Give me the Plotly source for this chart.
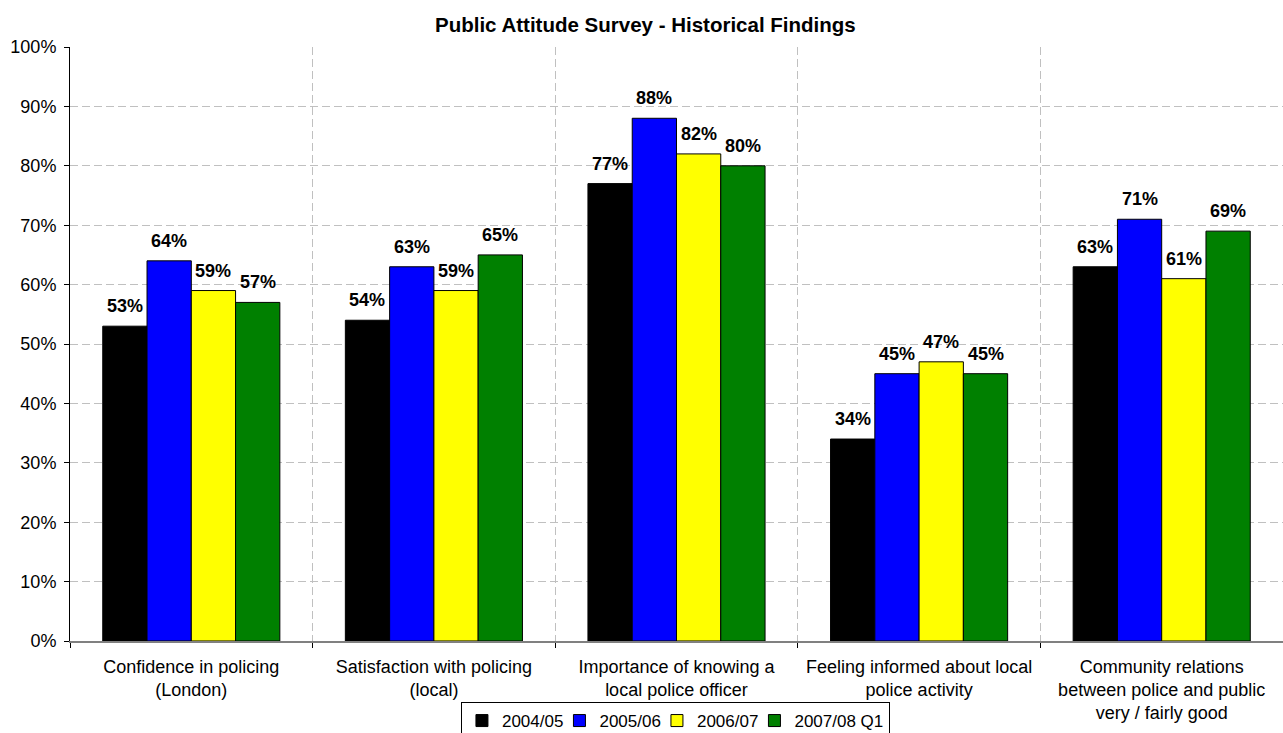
import plotly.graph_objects as go

categories = [
    "Confidence in policing<br>(London)",
    "Satisfaction with policing<br>(local)",
    "Importance of knowing a<br>local police officer",
    "Feeling informed about local<br>police activity",
    "Community relations<br>between police and public<br>very / fairly good",
]
series_names = ["2004/05", "2005/06", "2006/07", "2007/08 Q1"]
v2004 = [0.53, 0.54, 0.77, 0.34, 0.63]
v2005 = [0.64, 0.63, 0.88, 0.45, 0.71]
v2006 = [0.59, 0.59, 0.82, 0.47, 0.61]
v2007 = [0.57, 0.65, 0.80, 0.45, 0.69]
colors = ["#000000", "#0000FF", "#FFFF00", "#008000"]

FONT = "Liberation Sans, Arial, sans-serif"
W, H = 1283, 733
ML, MR, MT, MB = 70, 0, 47, 92
BARGAP = 0.27

all_series = [v2004, v2005, v2006, v2007]
fig = go.Figure()
for k, (name, vals, col) in enumerate(zip(series_names, all_series, colors)):
    fig.add_trace(go.Bar(
        x=categories, y=vals, name=name,
        marker=dict(color=col, line=dict(color="#000000", width=1)),
        cliponaxis=False,
        legendwidth=52.5 if k < len(series_names) - 1 else None,
    ))

# data labels above each bar
cat_px = (W - ML - MR) / len(categories)
bar_px = cat_px * (1 - BARGAP) / len(all_series)
annotations = []
for i, vals in enumerate(all_series):
    for c, v in zip(categories, vals):
        annotations.append(dict(
            x=c, y=v, xref="x", yref="y", text="<b>%d%%</b>" % round(v * 100),
            showarrow=False, xanchor="center", yanchor="bottom",
            xshift=(i - (len(all_series) - 1) / 2) * bar_px, yshift=8,
            font=dict(family=FONT, size=18, color="#000000"),
        ))

fig.update_layout(
    width=W, height=H,
    margin=dict(l=ML, r=MR, t=MT, b=MB, autoexpand=False),
    paper_bgcolor="white", plot_bgcolor="white",
    barmode="group", bargap=BARGAP, bargroupgap=0,
    font=dict(family=FONT, size=18, color="#000000"),
    title=dict(text="<b>Public Attitude Survey - Historical Findings</b>",
               x=0.503, xanchor="center", y=0.966, yanchor="middle",
               font=dict(family=FONT, size=20.5, color="#000000")),
    showlegend=True,
    legend=dict(orientation="h", x=0.3223, xanchor="left", y=-0.1027, yanchor="top",
                bordercolor="#000000", borderwidth=1, bgcolor="white",
                font=dict(family=FONT, size=17, color="#000000"),
                itemwidth=30, tracegroupgap=0),
    annotations=annotations,
)
fig.update_xaxes(
    type="category", tickson="boundaries", showgrid=True,
    gridcolor="#C0C0C0", griddash="8px,4px", gridwidth=1,
    showline=True, linecolor="#808080", linewidth=2,
    ticks="outside", ticklen=5, tickcolor="#000000",
    ticklabelstandoff=8,
    tickfont=dict(family=FONT, size=18, color="#000000"),
)
fig.update_yaxes(
    range=[0, 1], dtick=0.1, tickformat=".0%",
    showgrid=True, gridcolor="#C0C0C0", griddash="8px,4px", gridwidth=1,
    showline=True, linecolor="#000000", linewidth=1,
    ticks="outside", ticklen=5, tickcolor="#000000",
    ticklabelstandoff=4,
    tickfont=dict(family=FONT, size=18, color="#000000"),
    zeroline=False,
)

fig.write_html("out.html")
